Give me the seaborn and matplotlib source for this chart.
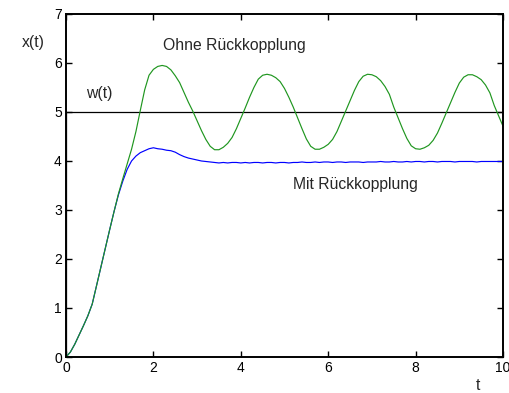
import numpy as np
import pandas as pd
import matplotlib
matplotlib.use("Agg")
import matplotlib.pyplot as plt
import seaborn as sns

# ---- data ----
t_values = [round(0.1 * i, 1) for i in range(101)]

ohne_rueckkopplung = [
    0.00, 0.10, 0.26, 0.45, 0.64, 0.84, 1.08, 1.46, 1.84, 2.22,
    2.60, 2.97, 3.33, 3.64, 3.94, 4.24, 4.60, 5.03, 5.45, 5.75,
    5.87, 5.93, 5.95, 5.93, 5.86, 5.74, 5.60, 5.40, 5.20, 5.02,
    4.82, 4.62, 4.44, 4.30, 4.23, 4.23, 4.28, 4.36, 4.48, 4.66,
    4.87, 5.08, 5.30, 5.50, 5.67, 5.75, 5.77, 5.75, 5.70, 5.62,
    5.48, 5.30, 5.10, 4.88, 4.66, 4.45, 4.30, 4.24, 4.24, 4.28,
    4.34, 4.44, 4.60, 4.81, 5.02, 5.23, 5.44, 5.62, 5.73, 5.77,
    5.76, 5.72, 5.64, 5.52, 5.36, 5.10, 4.88, 4.66, 4.46, 4.31,
    4.25, 4.24, 4.27, 4.32, 4.42, 4.57, 4.77, 4.98, 5.19, 5.40,
    5.59, 5.71, 5.76, 5.76, 5.72, 5.66, 5.55, 5.39, 5.13, 4.92,
    4.71,
]

mit_rueckkopplung = [
    0.00, 0.10, 0.26, 0.45, 0.64, 0.84, 1.08, 1.46, 1.84, 2.22,
    2.60, 2.97, 3.31, 3.59, 3.83, 4.00, 4.10, 4.17, 4.21, 4.25,
    4.27, 4.25, 4.24, 4.22, 4.21, 4.18, 4.13, 4.09, 4.06, 4.04,
    4.02, 4.00, 3.99, 3.98, 3.97, 3.96, 3.97, 3.96, 3.97, 3.97,
    3.96, 3.97, 3.96, 3.97, 3.97, 3.96, 3.97, 3.97, 3.96, 3.97,
    3.97, 3.96, 3.97, 3.97, 3.98, 3.97, 3.97, 3.98, 3.97, 3.98,
    3.98, 3.97, 3.98, 3.98, 3.97, 3.98, 3.98, 3.98, 3.97, 3.98,
    3.98, 3.98, 3.99, 3.98, 3.98, 3.99, 3.98, 3.98, 3.99, 3.98,
    3.99, 3.99, 3.98, 3.99, 3.99, 3.98, 3.99, 3.99, 3.99, 3.98,
    3.99, 3.99, 3.99, 3.99, 3.98, 3.99, 3.99, 3.99, 3.99, 3.99,
    3.99,
]

# reference signal w(t): step to 5 at t = 0
w_t = [0.0, 0.0, 10.0]
w_y = [0.0, 5.0, 5.0]

x_ticks = [0, 2, 4, 6, 8, 10]
y_ticks = [0, 1, 2, 3, 4, 5, 6, 7]

df = pd.DataFrame({
    "t": t_values * 2,
    "x": ohne_rueckkopplung + mit_rueckkopplung,
    "serie": ["Ohne Rückkopplung"] * len(t_values) + ["Mit Rückkopplung"] * len(t_values),
})
df_w = pd.DataFrame({"t": w_t, "x": w_y})

sns.set_style("ticks")
plt.rcParams["font.family"] = ["Liberation Sans", "DejaVu Sans"]

fig = plt.figure(figsize=(5.10, 3.93), dpi=100)
ax = fig.add_axes([0.1294, 0.0916, 0.8569, 0.8728])

sns.lineplot(data=df_w, x="t", y="x", sort=False, estimator=None, color="black",
             linewidth=0.9, ax=ax)
sns.lineplot(data=df, x="t", y="x", hue="serie", sort=False, estimator=None,
             palette={"Ohne Rückkopplung": "#1f961f", "Mit Rückkopplung": "#0000ff"},
             hue_order=["Mit Rückkopplung", "Ohne Rückkopplung"],
             linewidth=0.85, ax=ax, legend=False)

ax.set_xlim(0, 10)
ax.set_ylim(0, 7)
ax.set_xticks(x_ticks)
ax.set_yticks(y_ticks)
ax.set_xlabel("")
ax.set_ylabel("")
for s in ax.spines.values():
    s.set_visible(True)
    s.set_linewidth(1.4)
    s.set_color("black")
ax.tick_params(direction="in", length=4, width=1.0, top=True, right=True,
               labelsize=10, colors="black", pad=3)

ax.text(0.45, 5.28, "w(t)", fontsize=11.3)
ax.text(2.22, 6.27, "Ohne Rückkopplung", fontsize=11.3)
ax.text(5.19, 3.42, "Mit Rückkopplung", fontsize=11.3)
fig.text(22 / 510, 1 - 42 / 393, "x(t)", fontsize=11.3, va="center", ha="left")
fig.text(478 / 510, 1 - 386 / 393, "t", fontsize=11.3, va="center", ha="center")

fig.savefig("out.png", dpi=100, facecolor="white")
